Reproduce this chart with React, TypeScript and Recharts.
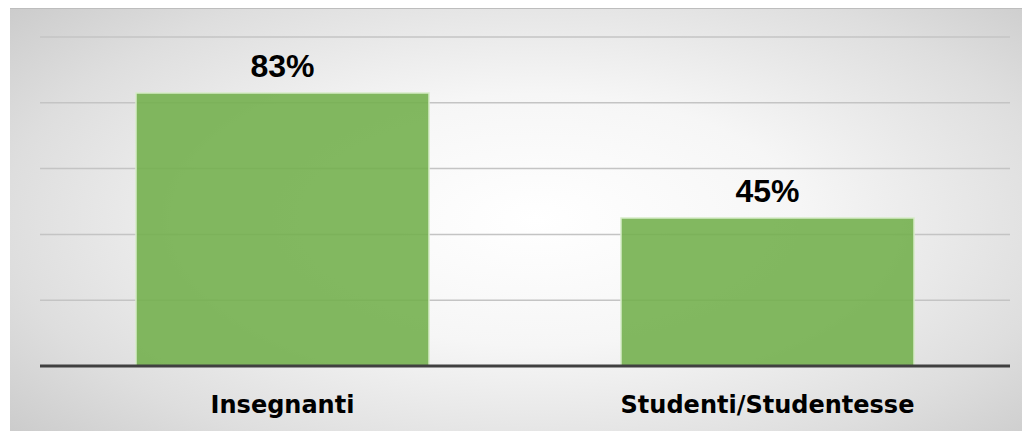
import React from 'react';
import { BarChart, Bar, XAxis, YAxis, CartesianGrid, LabelList } from 'recharts';

const categories = ['Insegnanti', 'Studenti/Studentesse'];
const values = [83, 45];
const yTicks = [0, 20, 40, 60, 80, 100];

const data = categories.map((name, i) => ({ name, value: values[i] }));

const App: React.FC = () => {
  return (
    <div style={{ position: 'absolute', left: 0, top: 0, width: 1022, height: 431, background: '#fff', overflow: 'hidden' }}>
      <div
        style={{
          position: 'absolute',
          left: 10,
          top: 8,
          width: 1012,
          height: 423,
          borderTop: '1px solid #bdbdbd',
          boxSizing: 'border-box',
          background: 'radial-gradient(ellipse 75% 85% at 52% 50%, #ffffff 0%, #f6f6f6 35%, #dedede 70%, #c4c4c4 100%)',
        }}
      >
        <BarChart width={1012} height={422} data={data} margin={{ top: 28, right: 12, bottom: 35, left: 30 }} barSize={293}>
          <CartesianGrid vertical={false} stroke="#c4c4c4" strokeWidth={1.5} />
          <YAxis hide domain={[0, 100]} ticks={yTicks} />
          <XAxis
            dataKey="name"
            axisLine={{ stroke: '#404040', strokeWidth: 3 }}
            tickLine={false}
            tick={{ fontSize: 24, fontWeight: 700, fill: '#000', fontFamily: 'DejaVu Sans, sans-serif' }}
            dy={22}
          />
          <Bar dataKey="value" fill="#74b04f" fillOpacity={0.9} stroke="#d6ebc8" strokeWidth={1.5} isAnimationActive={false}>
            <LabelList
              dataKey="value"
              position="top"
              offset={16}
              formatter={(v: any) => `${v}%`}
              style={{ fontSize: 32, fontWeight: 700, fill: '#000', fontFamily: 'Liberation Sans, Arial, sans-serif' }}
            />
          </Bar>
        </BarChart>
      </div>
    </div>
  );
};

export default App;
